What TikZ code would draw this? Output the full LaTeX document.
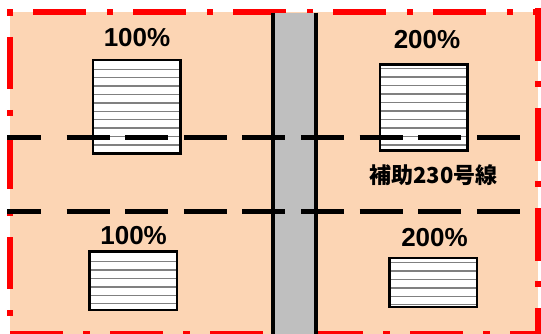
\documentclass[tikz,border=0pt]{standalone}
\usepackage{fontspec}
\setmainfont{Liberation Sans}
\newfontfamily\jpfont{Noto Sans CJK JP}
\definecolor{areafill}{RGB}{252,213,180}
\definecolor{roadgray}{RGB}{191,191,191}
\definecolor{stripegray}{RGB}{128,128,128}
\begin{document}
\begin{tikzpicture}[x=1pt,y=-1pt,
  redline/.style={draw=red,line width=6pt,line cap=butt},
  roadedge/.style={draw=black,line width=4pt},
  bldgedge/.style={draw=black,line width=2.5pt},
  stripe/.style={draw=stripegray,line width=1.4pt},
  blackdash/.style={draw=black,line width=5pt,line cap=butt},
  pct/.style={font=\bfseries\fontsize{26}{26}\selectfont,inner sep=0pt},
  jp/.style={font=\jpfont\bfseries\fontsize{22}{22}\selectfont,inner sep=0pt}]
\clip (0,0) rectangle (541,334);
\fill[white] (0,0) rectangle (541,334);
% zone
\fill[areafill] (10,12) rectangle (537.7,340);
% red dash-dot border
\draw[redline,dash pattern=on 6pt off 20pt on 53pt off 21pt] (7,12) -- (541,12);
\draw[redline,dash pattern=on 53pt off 20pt on 6pt off 21pt] (537.7,8) -- (537.7,340);
\draw[redline,dash pattern=on 6pt off 21pt on 52pt off 21pt] (10.3,10) -- (10.3,340);
\draw[redline,dash pattern=on 53pt off 20pt on 7pt off 20pt] (10,333.5) -- (541,333.5);
% road
\fill[roadgray] (272.5,12.7) rectangle (316.3,340);
\draw[roadedge] (272.5,12.7) -- (272.5,340);
\draw[roadedge] (316.3,12.7) -- (316.3,340);
% buildings
\fill[white] (93,60) rectangle (180.5,153.5);
\foreach \k in {0,...,9} \draw[stripe] (93,{69.3+8.4*\k}) -- (180.5,{69.3+8.4*\k});
\draw[bldgedge] (93,60) rectangle (180.5,153.5);
\fill[white] (380,64.5) rectangle (467.5,150.5);
\foreach \k in {0,...,9} \draw[stripe] (380,{68.5+8.5*\k}) -- (467.5,{68.5+8.5*\k});
\draw[bldgedge] (380,64.5) rectangle (467.5,150.5);
\fill[white] (89.5,251.5) rectangle (177,310);
\foreach \k in {0,...,5} \draw[stripe] (89.5,{261.7+8.4*\k}) -- (177,{261.7+8.4*\k});
\draw[bldgedge] (89.5,251.5) rectangle (177,310);
\fill[white] (389.5,258) rectangle (477,307);
\foreach \k in {0,...,5} \draw[stripe] (389.5,{262.7+8.4*\k}) -- (477,{262.7+8.4*\k});
\draw[bldgedge] (389.5,258) rectangle (477,307);
% black dashed lines
\draw[blackdash] (7.3,137.5) -- (40.7,137.5);
\draw[blackdash,dash pattern=on 43pt off 15.6pt] (66.6,137.5) -- (520,137.5);
\draw[blackdash] (7.3,211.5) -- (40.7,211.5);
\draw[blackdash,dash pattern=on 43pt off 15.6pt] (66.6,211.5) -- (520,211.5);
% labels
\node[pct] (tl) at (137,37.5) {100\%};
\node[pct] (tr) at (427,39.2) {200\%};
\node[pct] (bl) at (133.6,235.8) {100\%};
\node[pct] (br) at (434.5,237.8) {200\%};
\node[jp] (rd) at (433.3,175) {補助230号線};
\end{tikzpicture}
\end{document}
